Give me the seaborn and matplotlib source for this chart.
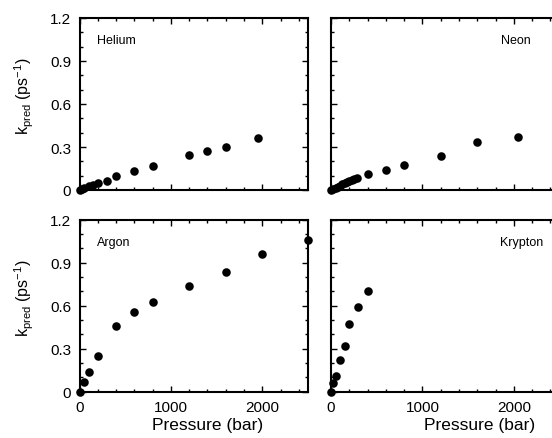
import numpy as np
import pandas as pd
import seaborn as sns
import matplotlib.pyplot as plt
from matplotlib.ticker import MultipleLocator, FixedLocator

# pressure (bar) and k_pred (ps^-1)
helium_p = [0, 25, 50, 100, 150, 200, 300, 400, 600, 800, 1200, 1400, 1600, 1950]
helium_k = [0.0, 0.008, 0.016, 0.027, 0.038, 0.048, 0.065, 0.095, 0.133, 0.166, 0.242, 0.272, 0.302, 0.365]

neon_p = [0, 25, 50, 75, 100, 125, 150, 175, 200, 225, 250, 280, 400, 600, 800, 1200, 1600, 2050]
neon_k = [0.0, 0.008, 0.016, 0.024, 0.031, 0.039, 0.046, 0.053, 0.060, 0.067, 0.074, 0.084,
          0.112, 0.140, 0.172, 0.237, 0.337, 0.372]

argon_p = [0, 50, 100, 200, 400, 600, 800, 1200, 1600, 2000, 2500]
argon_k = [0.0, 0.065, 0.135, 0.25, 0.456, 0.554, 0.624, 0.74, 0.835, 0.96, 1.06]

krypton_p = [0, 25, 50, 100, 150, 200, 300, 400]
krypton_k = [0.0, 0.06, 0.11, 0.22, 0.32, 0.47, 0.59, 0.70]

gases = ['Helium', 'Neon', 'Argon', 'Krypton']
y_ticks = [0, 0.3, 0.6, 0.9, 1.2]
y_tick_labels = ['0', '0.3', '0.6', '0.9', '1.2']
x_ticks = [0, 1000, 2000]

sns.set_style('ticks', {'axes.edgecolor': 'black', 'xtick.color': 'black',
                        'ytick.color': 'black', 'text.color': 'black',
                        'axes.labelcolor': 'black'})
plt.rcParams['font.family'] = ['Liberation Sans', 'DejaVu Sans']
plt.rcParams['mathtext.default'] = 'regular'

fig = plt.figure(figsize=(5.52, 4.39), dpi=100)
W, H = 552.0, 439.0
aw, ah = 228.5 / W, 172 / H
pos = {
    'Helium': [79.5 / W, (H - 191) / H, aw, ah],
    'Neon': [331 / W, (H - 191) / H, aw, ah],
    'Argon': [79.5 / W, (H - 392.7) / H, aw, ah],
    'Krypton': [331 / W, (H - 392.7) / H, aw, ah],
}
data = {
    'Helium': (helium_p, helium_k),
    'Neon': (neon_p, neon_k),
    'Argon': (argon_p, argon_k),
    'Krypton': (krypton_p, krypton_k),
}
label_pos = {
    'Helium': (0.077, 0.87, 'left'),
    'Neon': (0.873, 0.87, 'right'),
    'Argon': (0.077, 0.87, 'left'),
    'Krypton': (0.93, 0.87, 'right'),
}

for g in gases:
    ax = fig.add_axes(pos[g])
    df = pd.DataFrame({'p': data[g][0], 'k': data[g][1]})
    sns.scatterplot(data=df, x='p', y='k', ax=ax, color='black', s=38,
                    linewidth=0, clip_on=False, zorder=3)
    ax.set_xlim(0, 2500)
    ax.set_ylim(0, 1.2)
    ax.xaxis.set_major_locator(FixedLocator(x_ticks))
    ax.xaxis.set_minor_locator(MultipleLocator(200))
    ax.yaxis.set_major_locator(FixedLocator(y_ticks))
    ax.yaxis.set_minor_locator(MultipleLocator(0.1))
    ax.tick_params(which='both', direction='in', top=True, right=True,
                   labelsize=11, width=1.0, color='black', labelcolor='black')
    ax.tick_params(which='major', length=4, pad=6)
    ax.tick_params(which='minor', length=2)
    for s in ax.spines.values():
        s.set_linewidth(1.5)
        s.set_color('black')
    ax.set_xlabel('')
    ax.set_ylabel('')
    x, y, ha = label_pos[g]
    ax.text(x, y, g, transform=ax.transAxes, ha=ha, va='center', fontsize=9,
            color='black')

    if g in ('Helium', 'Argon'):
        ax.set_yticklabels(y_tick_labels)
        ax.set_ylabel(r'k$_{pred}$ (ps$^{-1}$)', fontsize=11.5)
        ax.yaxis.set_label_coords(-0.19, 0.55)
    else:
        ax.set_yticklabels([])
    if g in ('Argon', 'Krypton'):
        ax.set_xticklabels(['0', '1000', '2000'])
        ax.set_xlabel('Pressure (bar)', fontsize=12.5)
        ax.xaxis.set_label_coords(0.56 if g == 'Argon' else 0.65, -0.145)
    else:
        ax.set_xticklabels([])

plt.savefig('out.png', dpi=100)
